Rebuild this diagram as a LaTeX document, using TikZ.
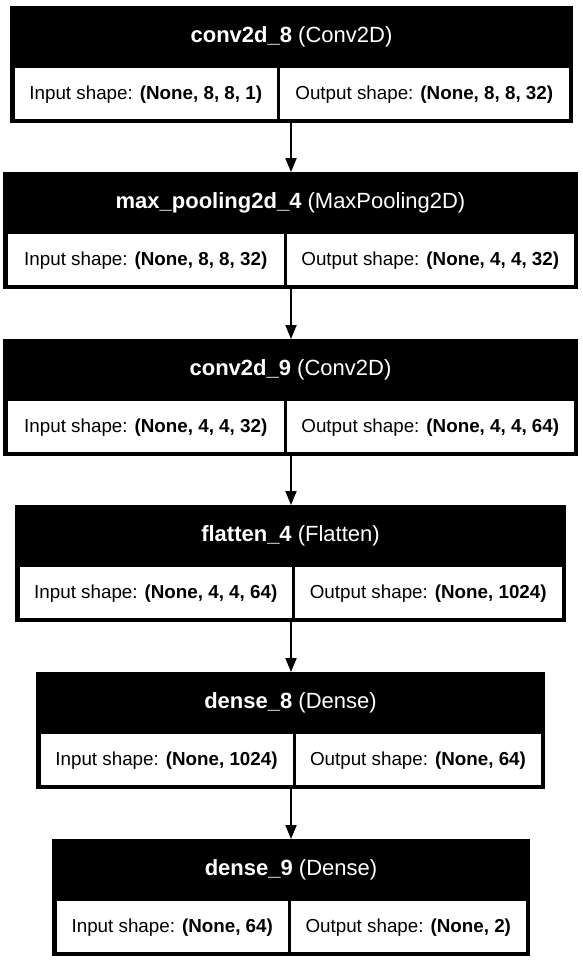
\documentclass[tikz,border=0pt]{standalone}
\usepackage{fontspec}
\setmainfont{Liberation Sans}
\usetikzlibrary{arrows.meta}
\tikzset{
  outerbox/.style={fill=black, draw=none, inner sep=0pt, outer sep=0pt},
  cellbox/.style={fill=white, draw=none, inner sep=0pt, outer sep=0pt},
  titletext/.style={text=white, inner sep=0pt, font=\fontsize{22}{26}\selectfont},
  celltext/.style={text=black, inner sep=0pt, font=\fontsize{18.8}{22}\selectfont},
  flowarrow/.style={line width=2pt, -{Triangle[length=14pt,width=11pt]}}
}
% #1 name, #2 x0, #3 x1, #4 y0, #5 divider x, #6 layer name, #7 type, #8 input, #9 output
\newcommand\kerasblock[9]{%
  \node[outerbox, anchor=north west, minimum width=#3pt-#2pt, minimum height=117pt] (#1) at (#2,#4) {};
  \node[titletext, anchor=base] (#1t) at ({(#2+#3)/2},#4+36) {\textbf{#6} (#7)};
  \node[cellbox, anchor=north west, minimum width=#5pt-1.5pt-#2pt-4.5pt, minimum height=51pt] (#1i) at (#2+4.5,#4+62) {};
  \node[cellbox, anchor=north west, minimum width=#3pt-4.5pt-#5pt-1.5pt, minimum height=51pt] (#1o) at (#5+1.5,#4+62) {};
  \node[celltext, anchor=base] (#1it) at ({(#2+4.5+#5-1.5)/2},#4+93) {Input shape: \textbf{#8}};
  \node[celltext, anchor=base] (#1ot) at ({(#5+1.5+#3-4.5)/2},#4+93) {Output shape: \textbf{#9}};
}
\begin{document}
\begin{tikzpicture}[x=1pt,y=-1pt]
  \fill[white] (0,0) rectangle (582,961);
  \useasboundingbox (0,0) rectangle (582,961);
  \kerasblock{b1}{10}{573}{6}{278.5}{conv2d\_8}{Conv2D}{(None, 8, 8, 1)}{(None, 8, 8, 32)}
  \kerasblock{b2}{3}{578}{172}{285.5}{max\_pooling2d\_4}{MaxPooling2D}{(None, 8, 8, 32)}{(None, 4, 4, 32)}
  \kerasblock{b3}{3}{578}{339}{285.5}{conv2d\_9}{Conv2D}{(None, 4, 4, 32)}{(None, 4, 4, 64)}
  \kerasblock{b4}{15}{566}{505}{293.5}{flatten\_4}{Flatten}{(None, 4, 4, 64)}{(None, 1024)}
  \kerasblock{b5}{36}{545}{672}{294}{dense\_8}{Dense}{(None, 1024)}{(None, 64)}
  \kerasblock{b6}{52}{530}{839}{289.5}{dense\_9}{Dense}{(None, 64)}{(None, 2)}
  \coordinate (ax) at (291,0);
  \draw[flowarrow] (b1.south -| ax) -- (b2.north -| ax);
  \draw[flowarrow] (b2.south -| ax) -- (b3.north -| ax);
  \draw[flowarrow] (b3.south -| ax) -- (b4.north -| ax);
  \draw[flowarrow] (b4.south -| ax) -- (b5.north -| ax);
  \draw[flowarrow] (b5.south -| ax) -- (b6.north -| ax);
\end{tikzpicture}
\end{document}
